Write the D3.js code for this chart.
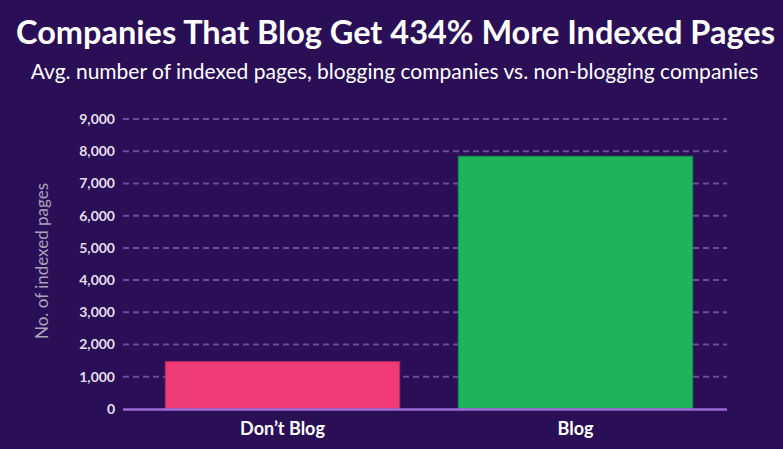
<!DOCTYPE html>
<html lang="en">
<head>
    <meta charset="UTF-8">
    <title>Companies That Blog Get 434% More Indexed Pages</title>
    <script src="https://d3js.org/d3.v7.min.js"></script>
    <style>
        body {
            margin: 0;
            background: #2b0f56;
        }
        svg {
            display: block;
            font-family: Lato, "Open Sans", sans-serif;
        }
    </style>
</head>
<body>

<div id="chart"></div>

<script>
    // values
    const categories = ["Don\u2019t Blog", "Blog"];
    const indexedPages = [1469, 7844];
    const barColors = ["#ef3b76", "#1db55c"];
    const barStrokes = ["#b8285c", "#178f4a"];
    const yTicks = [0, 1000, 2000, 3000, 4000, 5000, 6000, 7000, 8000, 9000];

    const W = 783, H = 449;
    const plotLeft = 123, plotRight = 727, plotTop = 119, plotBottom = 409;

    const svg = d3.select("#chart").append("svg")
        .attr("width", W)
        .attr("height", H);

    svg.append("rect")
        .attr("width", W).attr("height", H)
        .attr("fill", "#2b0f56");

    const y = d3.scaleLinear()
        .domain([0, 9000])
        .range([plotBottom, plotTop]);

    const x = d3.scaleBand()
        .domain(categories)
        .range([136, 722])
        .paddingInner(0.2)
        .paddingOuter(0.1);

    // titles
    svg.append("text")
        .attr("x", W / 2 + 4).attr("y", 44)
        .attr("text-anchor", "middle")
        .attr("fill", "#ffffff")
        .attr("font-size", 32.5)
        .attr("font-weight", 700)
        .text("Companies That Blog Get 434% More Indexed Pages");

    svg.append("text")
        .attr("x", W / 2 + 3).attr("y", 79)
        .attr("text-anchor", "middle")
        .attr("fill", "#ffffff")
        .attr("font-size", 21)
        .text("Avg. number of indexed pages, blogging companies vs. non-blogging companies");

    // dashed gridlines
    svg.append("g")
        .selectAll("line")
        .data(yTicks.filter(d => d > 0))
        .join("line")
        .attr("x1", plotLeft).attr("x2", plotRight)
        .attr("y1", d => y(d)).attr("y2", d => y(d))
        .attr("stroke", "#6b4c9e")
        .attr("stroke-width", 2)
        .attr("stroke-dasharray", "6,4");

    // tick labels
    svg.append("g")
        .selectAll("text")
        .data(yTicks)
        .join("text")
        .attr("x", 115)
        .attr("y", d => y(d))
        .attr("dy", "0.35em")
        .attr("text-anchor", "end")
        .attr("fill", "#e4dfec")
        .attr("font-size", 14)
        .attr("font-weight", 700)
        .text(d => d3.format(",")(d));

    // y axis title
    svg.append("text")
        .attr("transform", `translate(48,${(plotTop + plotBottom) / 2 - 3}) rotate(-90)`)
        .attr("text-anchor", "middle")
        .attr("fill", "#aaa1bd")
        .attr("font-size", 17)
        .text("No. of indexed pages");

    // bars
    svg.append("g")
        .selectAll("rect")
        .data(indexedPages)
        .join("rect")
        .attr("x", (d, i) => x(categories[i]))
        .attr("width", x.bandwidth())
        .attr("y", d => y(d))
        .attr("height", d => y(0) - y(d))
        .attr("fill", (d, i) => barColors[i])
        .attr("stroke", (d, i) => barStrokes[i])
        .attr("stroke-width", 1);

    // baseline
    svg.append("line")
        .attr("x1", plotLeft).attr("x2", plotRight)
        .attr("y1", plotBottom + 0.5).attr("y2", plotBottom + 0.5)
        .attr("stroke", "#9c6ad9")
        .attr("stroke-width", 2.5);

    // category labels
    svg.append("g")
        .selectAll("text")
        .data(categories)
        .join("text")
        .attr("x", d => x(d) + x.bandwidth() / 2)
        .attr("y", 435)
        .attr("text-anchor", "middle")
        .attr("fill", "#ffffff")
        .attr("font-size", 18)
        .attr("font-weight", 700)
        .text(d => d);
</script>

</body>
</html>
